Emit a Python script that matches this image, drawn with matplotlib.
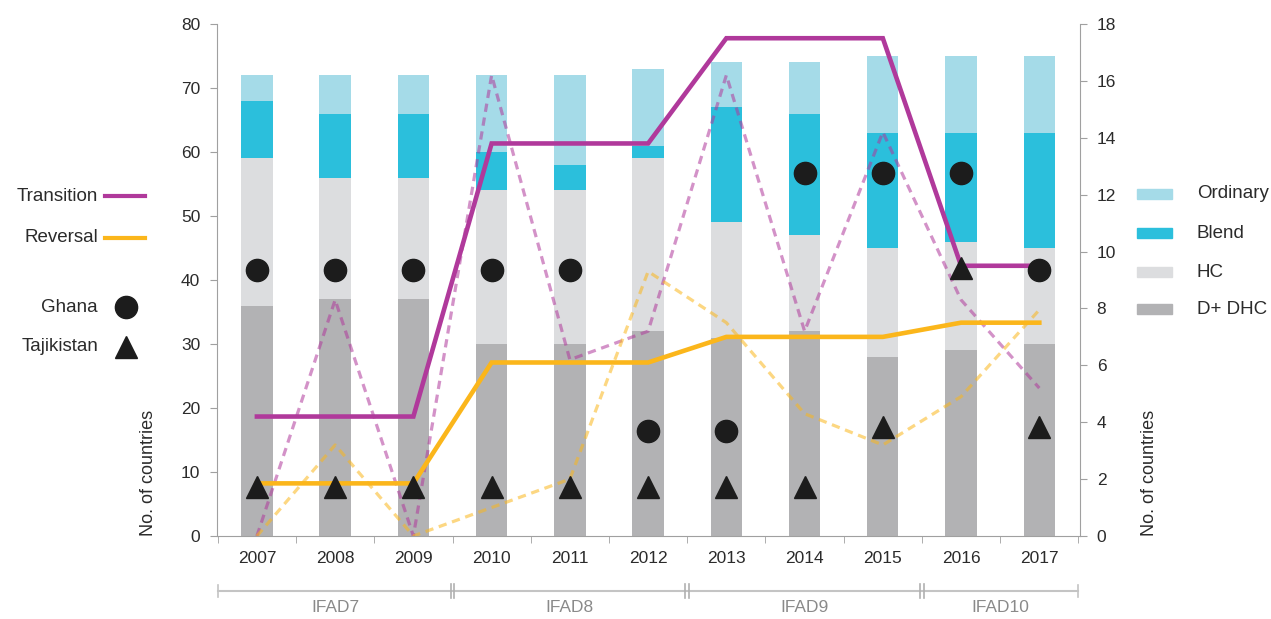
import matplotlib.pyplot as plt
import matplotlib.transforms as mtransforms
from matplotlib.lines import Line2D
from matplotlib.patches import Rectangle
import numpy as np

plt.rcParams['font.family'] = ['Liberation Sans', 'DejaVu Sans']

years = ['2007', '2008', '2009', '2010', '2011', '2012', '2013', '2014', '2015', '2016', '2017']

# stacked bar segments (left axis, no. of countries)
dhc = [36, 37, 37, 30, 30, 32, 31, 32, 28, 29, 30]
hc = [23, 19, 19, 24, 24, 27, 18, 15, 17, 17, 15]
blend = [9, 10, 10, 6, 4, 2, 18, 19, 18, 17, 18]
ordinary = [4, 6, 6, 12, 14, 12, 7, 8, 12, 12, 12]

# lines (right axis)
transition_avg = [4.2, 4.2, 4.2, 13.8, 13.8, 13.8, 17.5, 17.5, 17.5, 9.5, 9.5]
reversal_avg = [1.85, 1.85, 1.85, 6.1, 6.1, 6.1, 7.0, 7.0, 7.0, 7.5, 7.5]
transition = [0, 8.3, 0, 16.2, 6.2, 7.2, 16.2, 7.2, 14.2, 8.3, 5.2]
reversal = [0, 3.2, 0, 1.0, 2.0, 9.3, 7.5, 4.3, 3.2, 4.9, 7.95]

# country markers (left axis position)
ghana = [41.5, 41.5, 41.5, 41.5, 41.5, 16.4, 16.4, 56.7, 56.7, 56.7, 41.5]
tajikistan = [7.7, 7.7, 7.7, 7.7, 7.7, 7.7, 7.7, 7.7, 17.1, 41.9, 17.1]

periods = ['IFAD7', 'IFAD8', 'IFAD9', 'IFAD10']
period_edges = [-0.5, 2.5, 5.5, 8.5, 10.5]

c_ord = '#a5dbe8'
c_blend = '#2bbfdc'
c_hc = '#dcdddf'
c_dhc = '#b2b2b4'
c_trans = '#b0399b'
c_rev = '#fbb61b'
c_axis = '#a0a0a0'
c_text = '#2b2b2b'

W, H = 1271, 619
fig = plt.figure(figsize=(W / 100, H / 100), dpi=100)
ax = fig.add_axes([217 / W, 1 - 536 / H, (1080 - 217) / W, (536 - 24) / H])
ax2 = ax.twinx()

x = np.arange(len(years))
bw = 0.4
b1 = np.array(dhc)
b2 = b1 + np.array(hc)
b3 = b2 + np.array(blend)
ax.bar(x, dhc, bw, color=c_dhc, zorder=2)
ax.bar(x, hc, bw, bottom=b1, color=c_hc, zorder=2)
ax.bar(x, blend, bw, bottom=b2, color=c_blend, zorder=2)
ax.bar(x, ordinary, bw, bottom=b3, color=c_ord, zorder=2)

ax.set_xlim(-0.51, 10.52)
ax.set_ylim(0, 80)
ax2.set_ylim(0, 18)
ax.set_yticks(range(0, 81, 10))
ax2.set_yticks(range(0, 19, 2))

ax2.plot(x, transition, color=c_trans, lw=2.3, alpha=0.55, dashes=(2.6, 1.8), zorder=3)
ax2.plot(x, reversal, color=c_rev, lw=2.3, alpha=0.55, dashes=(2.6, 1.8), zorder=3)
ax2.plot(x, transition_avg, color=c_trans, lw=3.3, solid_joinstyle='miter', zorder=4)
ax2.plot(x, reversal_avg, color=c_rev, lw=3.3, solid_joinstyle='miter', zorder=4)
ax2.plot(x, ghana, 'o', color='#1c1c1c', ms=16, transform=ax.transData, zorder=5)
ax2.plot(x, tajikistan, '^', color='#1c1c1c', ms=16.5, transform=ax.transData, zorder=5)

# axes styling
for a in (ax, ax2):
    for s in a.spines.values():
        s.set_color(c_axis)
    a.spines['top'].set_visible(False)
ax.spines['right'].set_visible(False)
ax2.spines['left'].set_visible(False)
ax2.spines['bottom'].set_visible(False)

ax.set_xticks(x)
ax.set_xticklabels(years)
ax.set_xticks(np.arange(-0.5, 10.6, 1), minor=True)
ax.tick_params(axis='x', which='major', length=0, pad=11, labelsize=12.5, labelcolor=c_text)
ax.tick_params(axis='x', which='minor', length=5, color=c_axis)
ax.tick_params(axis='y', length=5, color=c_axis, pad=7, labelsize=12.5, labelcolor=c_text)
ax2.tick_params(axis='y', length=5, color=c_axis, pad=7, labelsize=12.5, labelcolor=c_text)

ax.set_ylabel('No. of countries', loc='bottom', fontsize=13, color=c_text, labelpad=17)
ax2.set_ylabel('No. of countries', loc='bottom', fontsize=13, color=c_text, labelpad=18)

# IFAD period brackets under the axis
tr = mtransforms.blended_transform_factory(ax.transData, ax.transAxes)
yl = -0.108
ax.plot([period_edges[0], period_edges[-1]], [yl, yl], color='#c4c4c4', lw=1.5,
        transform=tr, clip_on=False)
for e in [period_edges[0], period_edges[-1]]:
    ax.plot([e, e], [yl - 0.012, yl + 0.012], color='#c4c4c4', lw=1.2,
            transform=tr, clip_on=False)
for e in period_edges[1:-1]:
    for d in (-0.025, 0.025):
        ax.plot([e + d, e + d], [yl - 0.014, yl + 0.014], color='#b0b0b0', lw=1.2,
                transform=tr, clip_on=False)
for i, p in enumerate(periods):
    mid = (period_edges[i] + period_edges[i + 1]) / 2
    ax.text(mid, -0.14, p, transform=tr, ha='center', va='center',
            fontsize=12.5, color='#8a8a8a')

# left legend (lines and markers)
def fx(px):
    return px / W

def fy(py):
    return 1 - py / H

for lab, col, py in [('Transition', c_trans, 196), ('Reversal', c_rev, 238)]:
    fig.text(fx(98), fy(py), lab, ha='right', va='center', fontsize=13.5, color=c_text)
    fig.add_artist(Line2D([fx(105), fx(145)], [fy(py), fy(py)], color=col, lw=3,
                          transform=fig.transFigure))
for lab, mk, py in [('Ghana', 'o', 307), ('Tajikistan', '^', 347)]:
    fig.text(fx(98), fy(py), lab, ha='right', va='center', fontsize=13.5, color=c_text)
    fig.add_artist(Line2D([fx(126)], [fy(py)], marker=mk, ms=16, color='#1c1c1c',
                          lw=0, transform=fig.transFigure))

# right legend (bar categories)
for lab, col, py in [('Ordinary', c_ord, 194), ('Blend', c_blend, 233),
                     ('HC', c_hc, 272), ('D+ DHC', c_dhc, 309)]:
    fig.add_artist(Rectangle((fx(1137), fy(py + 5)), fx(35), 10 / H, color=col,
                             transform=fig.transFigure))
    fig.text(fx(1197), fy(py), lab, ha='left', va='center', fontsize=13.5, color=c_text)

fig.savefig('out.png', dpi=100)
